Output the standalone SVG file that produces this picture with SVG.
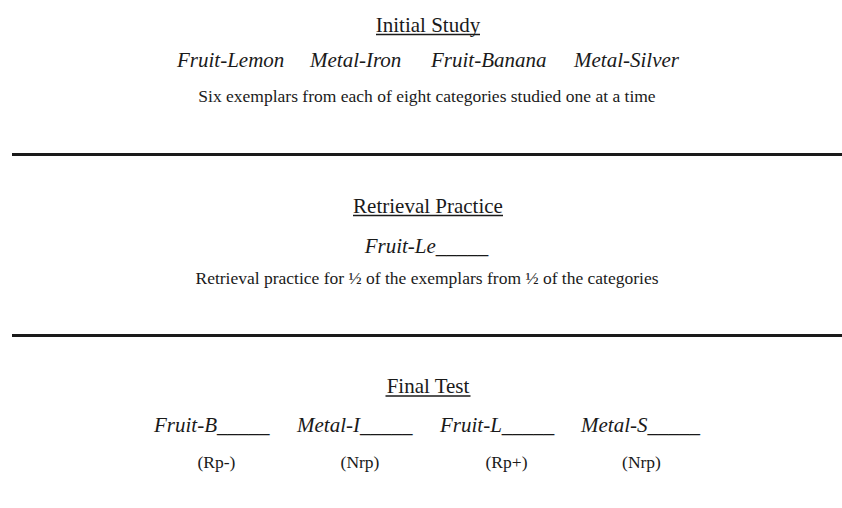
<svg xmlns="http://www.w3.org/2000/svg" width="842" height="508" viewBox="0 0 842 508">
<style>
text{font-family:"Liberation Serif","Times New Roman",serif;fill:#1a1a1a}
.t{font-size:21px;text-anchor:middle}
.i{font-size:21px;font-style:italic}
.ic{font-size:21px;font-style:italic;text-anchor:middle}
.d{font-size:17.5px;text-anchor:middle}
.u{stroke:#1a1a1a;stroke-width:1.6}
.sep{stroke:#1a1a1a;stroke-width:3}
</style>
<rect width="842" height="508" fill="#ffffff"/>
<g id="initial-study">
<text class="t" x="428" y="31.5">Initial Study</text>
<line class="u" x1="376" y1="34.5" x2="480" y2="34.5"/>
<text class="i" x="177" y="66.5">Fruit-Lemon</text>
<text class="i" x="310" y="66.5">Metal-Iron</text>
<text class="i" x="431" y="66.5">Fruit-Banana</text>
<text class="i" x="574" y="66.5">Metal-Silver</text>
<text class="d" x="427" y="102">Six exemplars from each of eight categories studied one at a time</text>
</g>
<g id="separators">
<line class="sep" x1="12" y1="154.5" x2="842" y2="154.5"/>
<line class="sep" x1="12" y1="335.5" x2="842" y2="335.5"/>
</g>
<g id="retrieval-practice">
<text class="t" x="428" y="212.5">Retrieval Practice</text>
<line class="u" x1="353" y1="215.5" x2="503" y2="215.5"/>
<text class="ic" x="426.5" y="252.5">Fruit-Le_____</text>
<text class="d" x="427" y="283.5">Retrieval practice for ½ of the exemplars from ½ of the categories</text>
</g>
<g id="final-test">
<text class="t" x="428" y="393">Final Test</text>
<line class="u" x1="385.5" y1="396" x2="470.5" y2="396"/>
<text class="i" x="154" y="432">Fruit-B_____</text>
<text class="i" x="297" y="432">Metal-I_____</text>
<text class="i" x="440" y="432">Fruit-L_____</text>
<text class="i" x="581" y="432">Metal-S_____</text>
<text class="d" x="216.5" y="468">(Rp-)</text>
<text class="d" x="360" y="468">(Nrp)</text>
<text class="d" x="506.5" y="468">(Rp+)</text>
<text class="d" x="641.5" y="468">(Nrp)</text>
</g>
</svg>
